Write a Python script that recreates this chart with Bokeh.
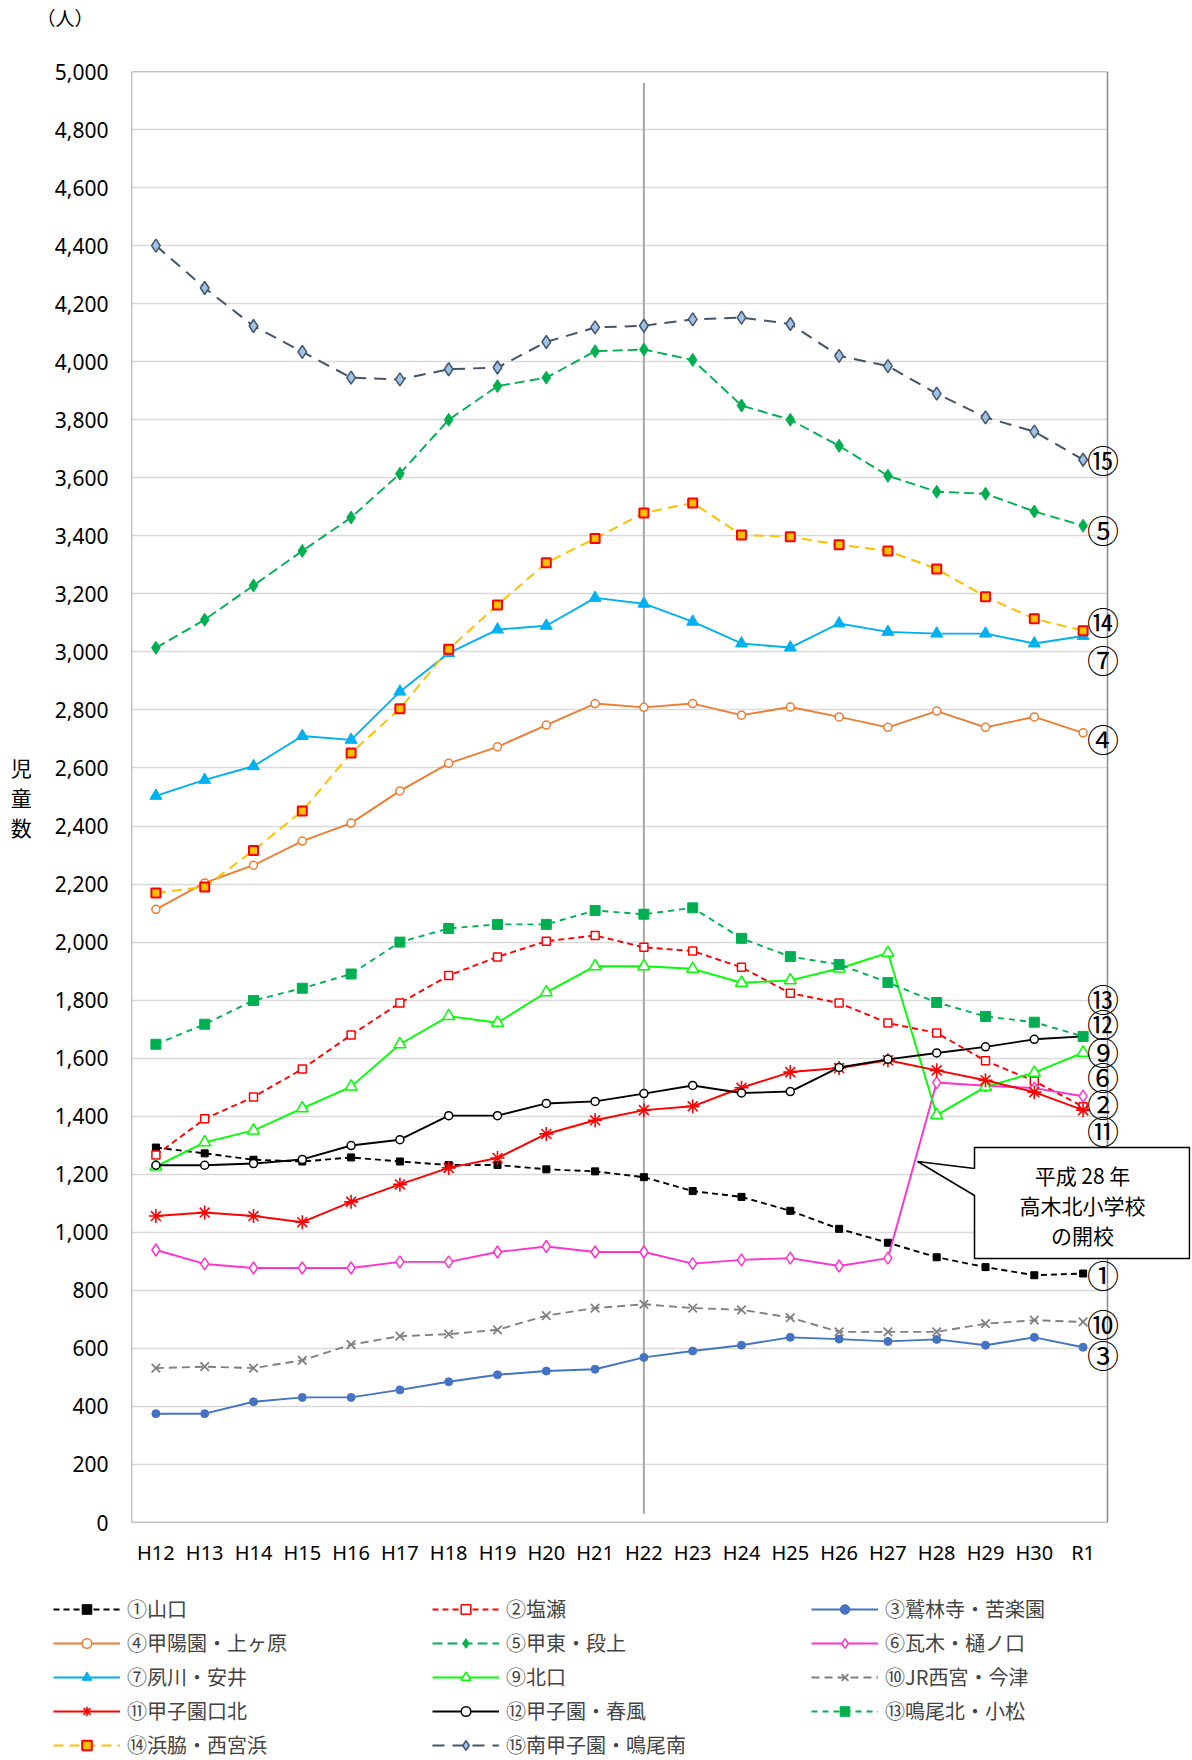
from bokeh.plotting import figure
from bokeh.layouts import column
from bokeh.models import (ColumnDataSource, Range1d, SingleIntervalTicker, FixedTicker,
                          NumeralTickFormatter, Legend, LegendItem, Label, PolyAnnotation,
                          BoxAnnotation)
from bokeh.core.properties import value
from bokeh.embed import file_html
from bokeh.resources import INLINE

# ---------------- data ----------------
years = ["H12", "H13", "H14", "H15", "H16", "H17", "H18", "H19", "H20", "H21",
         "H22", "H23", "H24", "H25", "H26", "H27", "H28", "H29", "H30", "R1"]

s01_yamaguchi = [1292, 1272, 1250, 1244, 1258, 1244, 1232, 1232, 1217, 1210,
                 1190, 1142, 1122, 1074, 1012, 964, 914, 880, 852, 858]
s02_shiose = [1266, 1391, 1466, 1563, 1680, 1790, 1885, 1949, 2003, 2023,
              1982, 1969, 1913, 1824, 1790, 1721, 1687, 1591, 1521, 1433]
s03_jurinji = [375, 375, 416, 431, 431, 457, 485, 509, 522, 528,
               569, 591, 611, 638, 632, 624, 631, 611, 638, 604]
s04_koyoen = [2113, 2204, 2265, 2348, 2410, 2521, 2616, 2673, 2748, 2822,
              2809, 2822, 2782, 2810, 2776, 2740, 2796, 2740, 2776, 2721]
s05_koto = [3014, 3111, 3229, 3348, 3463, 3614, 3800, 3916, 3945, 4036,
            4042, 4006, 3849, 3800, 3710, 3607, 3552, 3545, 3484, 3435]
s06_kawaragi = [939, 891, 877, 877, 877, 898, 898, 932, 951, 932,
                932, 892, 905, 911, 884, 911, 1516, 1505, 1497, 1469]
s07_shukugawa = [2504, 2559, 2606, 2710, 2697, 2863, 2996, 3077, 3090, 3186,
                 3166, 3104, 3029, 3015, 3098, 3069, 3063, 3063, 3029, 3055]
s09_kitaguchi = [1227, 1310, 1351, 1427, 1502, 1648, 1745, 1722, 1827, 1917,
                 1917, 1908, 1860, 1868, 1909, 1963, 1404, 1501, 1550, 1619]
s10_jrnishinomiya = [532, 537, 532, 559, 613, 642, 649, 664, 713, 739,
                     752, 739, 733, 706, 657, 657, 657, 685, 697, 691]
s11_koshienguchikita = [1056, 1068, 1056, 1035, 1105, 1165, 1222, 1256, 1339, 1386,
                        1421, 1434, 1498, 1552, 1566, 1593, 1558, 1524, 1483, 1421]
s12_koshien = [1231, 1231, 1237, 1251, 1299, 1319, 1402, 1402, 1444, 1451,
               1478, 1506, 1480, 1485, 1568, 1596, 1618, 1639, 1665, 1675]
s13_naruokita = [1648, 1717, 1799, 1841, 1890, 2000, 2047, 2061, 2061, 2109,
                 2096, 2118, 2013, 1950, 1923, 1861, 1792, 1744, 1724, 1675]
s14_hamawaki = [2169, 2190, 2316, 2452, 2652, 2804, 3009, 3162, 3307, 3391,
                3479, 3513, 3403, 3397, 3369, 3348, 3286, 3190, 3114, 3073]
s15_minamikoshien = [4400, 4254, 4123, 4034, 3945, 3939, 3974, 3980, 4068, 4118,
                     4124, 4146, 4152, 4130, 4020, 3985, 3890, 3808, 3759, 3662]

series_labels = ["①山口", "②塩瀬", "③鷲林寺・苦楽園",
                 "④甲陽園・上ヶ原", "⑤甲東・段上", "⑥瓦木・樋ノ口",
                 "⑦夙川・安井", "⑨北口", "⑩JR西宮・今津",
                 "⑪甲子園口北", "⑫甲子園・春風", "⑬鳴尾北・小松",
                 "⑭浜脇・西宮浜", "⑮南甲子園・鳴尾南"]
series_values = [s01_yamaguchi, s02_shiose, s03_jurinji,
                 s04_koyoen, s05_koto, s06_kawaragi,
                 s07_shukugawa, s09_kitaguchi, s10_jrnishinomiya,
                 s11_koshienguchikita, s12_koshien, s13_naruokita,
                 s14_hamawaki, s15_minamikoshien]

# circled end labels and their (de-overlapped) vertical positions
end_label_text = ["⑮", "⑤", "⑭", "⑦", "④", "⑬", "⑫", "⑨", "⑥", "②", "⑪", "①", "⑩", "③"]
end_label_y = [3663, 3425, 3105, 2977, 2702, 1806, 1720, 1626, 1540, 1447, 1351, 858, 689, 582]

unit_text = "（人）"
axis_title = "児\n童\n数"
callout_text = "平成 28 年\n高木北小学校\nの開校"
marker_year = "H22"

# ---------------- styles ----------------
# (line color, line width, dash, marker, size, fill, marker line color, marker line width)
styles = [
    ("#000000", 1.9, "6 4", "square", 7, "#000000", "#000000", 1),
    ("#FF0000", 1.9, "6 4", "square", 8, "#FFFFFF", "#FF0000", 1.5),
    ("#4472C4", 1.9, "solid", "circle", 8, "#4472C4", "#4472C4", 1),
    ("#ED7D31", 1.9, "solid", "circle", 8, "#FFFFFF", "#ED7D31", 1.5),
    ("#00B050", 1.9, "10 5", "diamond", 13, "#00B050", "#00B050", 1),
    ("#FF33CC", 1.9, "solid", "diamond", 12, "#FFFFFF", "#FF33CC", 1.5),
    ("#00B0F0", 1.9, "solid", "triangle", 12, "#00B0F0", "#00B0F0", 1),
    ("#00FF00", 1.9, "solid", "triangle", 12, "#FFFFFF", "#00FF00", 1.5),
    ("#808080", 1.9, "8 5", "x", 12, "#808080", "#808080", 1.8),
    ("#FF0000", 2.0, "solid", "asterisk", 14, "#FF0000", "#FF0000", 1.6),
    ("#000000", 1.9, "solid", "circle", 8, "#FFFFFF", "#000000", 1.5),
    ("#00B050", 1.9, "6 5", "square", 10, "#00B050", "#00B050", 1),
    ("#FFC000", 2.0, "10 6", "square", 9, "#FFC000", "#FF0000", 2),
    ("#44546A", 2.0, "12 8", "diamond", 13, "#9DC3E6", "#44546A", 1.5),
]

FONT_JP = "Noto Sans CJK JP"
FONT_NUM = "Noto Sans"

W = 1192
H_UNIT, H_CHART, H_LEG = 36, 1544, 180
LEFT, TOP, RIGHT_PAD, BOTTOM = 131, 35, 2, 58
N = len(years)
CELL = 48.8                                   # px per category (976 px chart box / 20)
frame_w = W - LEFT - RIGHT_PAD
x_end = -0.5 + frame_w / CELL                 # extra room right of the chart box

xs = list(range(N))

# ---------- unit strip above the chart ----------
r = figure(width=W, height=H_UNIT, x_range=Range1d(0, 1), y_range=Range1d(0, 1),
           output_backend="svg", toolbar_location=None, title=None,
           x_axis_location=None, y_axis_location=None, frame_align=False,
           min_border_left=0, min_border_right=0, min_border_top=0, min_border_bottom=0)
r.outline_line_color = None
r.grid.grid_line_color = None
r.add_layout(Label(x=36, y=H_UNIT - 17, x_units="screen", y_units="screen", text=unit_text,
                   text_font=FONT_JP, text_font_size="19px", text_align="left",
                   text_baseline="middle", text_color="#000000"))

# ---------- main chart ----------
p = figure(width=W, height=H_CHART,
           x_range=Range1d(-0.5, x_end), y_range=Range1d(0, 5000),
           output_backend="svg", toolbar_location=None, title=None, frame_align=False,
           min_border_left=LEFT, min_border_right=RIGHT_PAD,
           min_border_top=TOP, min_border_bottom=BOTTOM)

p.outline_line_color = None
p.xgrid.grid_line_color = None
p.ygrid.grid_line_color = "#D9D9D9"
p.ygrid.grid_line_width = 1.5

p.xaxis.ticker = FixedTicker(ticks=xs)
p.xaxis.major_label_overrides = {i: y for i, y in enumerate(years)}
p.yaxis.ticker = SingleIntervalTicker(interval=200, num_minor_ticks=0)
p.yaxis.formatter = NumeralTickFormatter(format="0,0")
for ax in (p.xaxis, p.yaxis):
    ax.axis_line_color = None
    ax.major_tick_line_color = None
    ax.minor_tick_line_color = None
    ax.major_label_text_font = FONT_NUM
    ax.major_label_text_color = "#000000"
p.yaxis.major_label_text_font_size = "21px"
p.xaxis.major_label_text_font_size = "20px"
p.yaxis.major_label_standoff = 17
p.xaxis.major_label_standoff = 10

# axis title, stacked vertically
p.yaxis.axis_label = axis_title
p.yaxis.axis_label_orientation = "horizontal"
p.yaxis.axis_label_text_font = FONT_JP
p.yaxis.axis_label_text_font_size = "21px"
p.yaxis.axis_label_text_font_style = "normal"
p.yaxis.axis_label_text_color = "#000000"
p.yaxis.axis_label_text_line_height = 1.0
p.yaxis.axis_label_standoff = 20

# blank area right of chart box (hides grid there) and the chart box itself
p.add_layout(BoxAnnotation(left=N - 0.5, fill_color="#FFFFFF", fill_alpha=1.0, line_color=None))
p.add_layout(BoxAnnotation(left=-0.5, right=N - 0.5, bottom=0, top=5000,
                           fill_alpha=0, line_color="#8C8C8C", line_alpha=1.0,
                           line_width=1.5))

# H22 reference line
xi = years.index(marker_year)
p.segment(x0=[xi], y0=[30], x1=[xi], y1=[4960], line_color="#A6A6A6", line_width=2)

# ---------- legend strip (its copies of the series lie outside its ranges) ----------
q = figure(width=W, height=H_LEG, x_range=Range1d(1000, 1001), y_range=Range1d(0, 1),
           output_backend="svg", toolbar_location=None, title=None,
           x_axis_location=None, y_axis_location=None, frame_align=False,
           min_border_left=0, min_border_right=0, min_border_top=0, min_border_bottom=0)
q.outline_line_color = None
q.grid.grid_line_color = None

items = []
for label, vals, st in zip(series_labels, series_values, styles):
    lc, lw, dash, mk, sz, fc, mlc, mlw = st
    src = ColumnDataSource(dict(x=xs, y=vals))
    p.line("x", "y", source=src, line_color=lc, line_width=lw, line_dash=dash)
    p.scatter("x", "y", source=src, marker=mk, size=sz, fill_color=fc,
              line_color=mlc, line_width=mlw)
    lr = q.line("x", "y", source=src, line_color=lc, line_width=lw, line_dash=dash)
    sr = q.scatter("x", "y", source=src, marker=mk, size=sz, fill_color=fc,
                   line_color=mlc, line_width=mlw)
    items.append(LegendItem(label=label, renderers=[lr, sr]))

# circled end labels
p.text(x=[N - 1] * len(end_label_text), y=end_label_y, text=end_label_text,
       x_offset=20, text_font=value(FONT_JP), text_font_size="32px",
       text_align="center", text_baseline="middle", text_color="#000000",
       level="overlay")

# callout (screen px relative to the frame's bottom-left)
callout = PolyAnnotation(xs=[843, 1058, 1058, 843, 843, 786, 843],
                         ys=[375, 375, 264, 264, 327, 361, 354],
                         xs_units="screen", ys_units="screen",
                         fill_color="#FFFFFF", fill_alpha=1.0,
                         line_color="#000000", line_alpha=1.0, line_width=1.5)
p.add_layout(callout)
p.add_layout(Label(x=951, y=318, x_units="screen", y_units="screen",
                   text=callout_text, text_font=FONT_JP, text_font_size="21px",
                   text_align="center", text_baseline="middle",
                   text_line_height=1.0, text_color="#000000"))

legend = Legend(items=items, location=(53, 1), orientation="horizontal", ncols=3,
                glyph_width=67, glyph_height=24, label_height=20, label_width=300,
                label_standoff=7, spacing=5, padding=0, margin=0,
                border_line_color=None, background_fill_alpha=0,
                label_text_font=FONT_JP, label_text_font_size="20px")
q.add_layout(legend)

layout = column(r, p, q, spacing=0)
open("out.html", "w").write(file_html(layout, INLINE))
